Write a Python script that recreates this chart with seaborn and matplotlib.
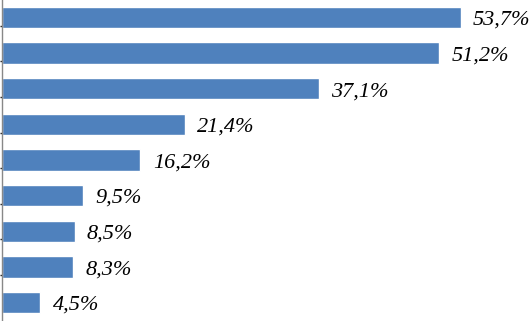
import matplotlib
matplotlib.use("Agg")
import matplotlib.pyplot as plt
import seaborn as sns
import pandas as pd

categories = ["A", "B", "C", "D", "E", "F", "G", "H", "I"]
values = [53.7, 51.2, 37.1, 21.4, 16.2, 9.5, 8.5, 8.3, 4.5]
labels = ["53,7%", "51,2%", "37,1%", "21,4%", "16,2%", "9,5%", "8,5%", "8,3%", "4,5%"]

df = pd.DataFrame({"cat": categories, "val": values})

sns.set_theme(style="white")
fig = plt.figure(figsize=(5.31, 3.21), dpi=100)
ax = fig.add_axes([2 / 531, 0, 529 / 531, 1])
sns.barplot(data=df, x="val", y="cat", orient="h", color="#4F81BD",
            saturation=1, width=0.6, ax=ax)
ax.set_xlim(0, 527 / 8.51)
ax.set_ylim(8.52, -0.49)
for i, (v, lab) in enumerate(zip(values, labels)):
    ax.text(v + 1.45, i + 0.08, lab, va="center", ha="left",
            family="Liberation Serif", style="italic", fontsize=16, color="black")
for s in ["top", "right", "bottom"]:
    ax.spines[s].set_visible(False)
ax.spines["left"].set_color("#888888")
ax.spines["left"].set_linewidth(1.0)
ax.set_xticks([])
ax.set_yticks([i + 0.23 for i in range(8)])
ax.set_yticklabels([])
ax.tick_params(axis="y", left=True, length=3, width=1, color="#222222", direction="inout")
ax.set_xlabel("")
ax.set_ylabel("")
fig.savefig("out.png", dpi=100)
